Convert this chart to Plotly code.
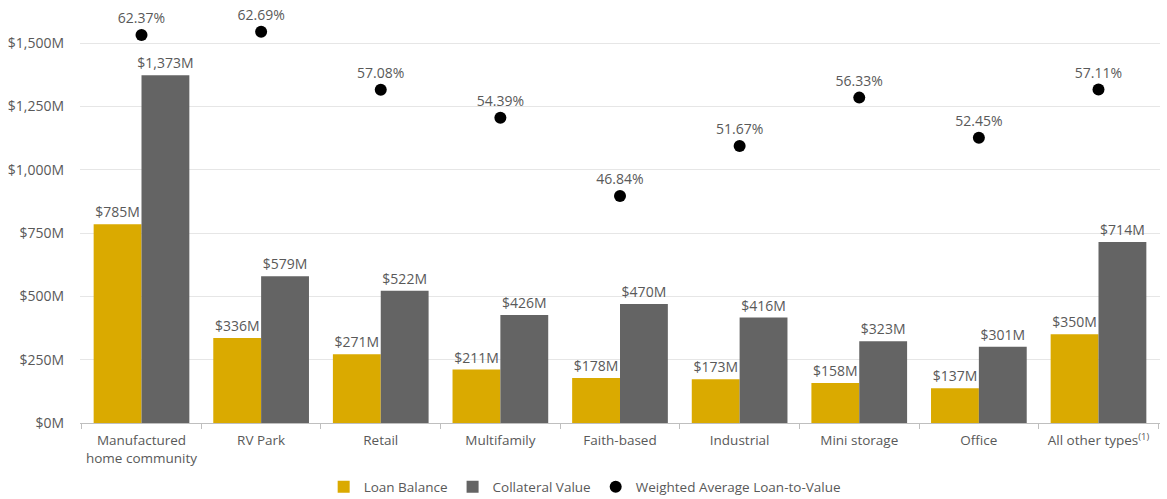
import plotly.graph_objects as go

categories = ["Manufactured<br>home community", "RV Park", "Retail", "Multifamily",
              "Faith-based", "Industrial", "Mini storage", "Office",
              "All other types<sup>(1)</sup>"]
loan_balance = [785, 336, 271, 211, 178, 173, 158, 137, 350]
collateral_value = [1373, 579, 522, 426, 470, 416, 323, 301, 714]
ltv = [62.37, 62.69, 57.08, 54.39, 46.84, 51.67, 56.33, 52.45, 57.11]
y_ticks = [0, 250, 500, 750, 1000, 1250, 1500]
y_tick_labels = ["$0M", "$250M", "$500M", "$750M", "$1,000M", "$1,250M", "$1,500M"]

FONT = "Open Sans"
TXT = "#595959"

fig = go.Figure()
fig.add_trace(go.Bar(
    x=categories, y=loan_balance, name="Loan Balance",
    marker=dict(color="#DAAA00", line=dict(width=0)),
    text=[f"${v:,}M" for v in loan_balance], textposition="outside",
    constraintext="none",
    textfont=dict(color=TXT, size=14, family=FONT), cliponaxis=False,
))
fig.add_trace(go.Bar(
    x=categories, y=collateral_value, name="Collateral Value",
    marker=dict(color="#646464", line=dict(width=0)),
    text=[f"${v:,}M" for v in collateral_value], textposition="outside",
    constraintext="none",
    textfont=dict(color=TXT, size=14, family=FONT), cliponaxis=False,
))
fig.add_trace(go.Scatter(
    x=categories, y=ltv, name="Weighted Average Loan-to-Value", yaxis="y2",
    mode="markers+text", marker=dict(color="black", size=12),
    text=[f"{v:.2f}%" for v in ltv], textposition="top center",
    textfont=dict(color=TXT, size=14, family=FONT), cliponaxis=False,
))

fig.update_layout(
    width=1167, height=499,
    margin=dict(l=80, r=7, t=10, b=76, autoexpand=False),
    paper_bgcolor="white", plot_bgcolor="white",
    font=dict(family=FONT, color=TXT, size=14),
    barmode="group", bargap=0.2, bargroupgap=0,
    xaxis=dict(showline=True, linecolor="#bfbfbf", linewidth=1, automargin=False,
               tickangle=0, ticklabelstandoff=5,
               ticks="outside", tickson="boundaries", ticklen=5, tickcolor="#bfbfbf",
               tickfont=dict(size=13.5, color=TXT)),
    yaxis=dict(range=[0, 1630.3], tickvals=y_ticks, ticktext=y_tick_labels,
               showgrid=True, gridcolor="#e6e6e6", gridwidth=1, zeroline=False,
               automargin=False,
               tickfont=dict(size=14, color=TXT), ticklabelstandoff=15),
    yaxis2=dict(overlaying="y", range=[24.95, 64.78], visible=False),
    legend=dict(orientation="h", xref="container", yref="container",
                x=0.501, xanchor="center", y=0.024, yanchor="middle",
                font=dict(size=13.5, color=TXT), itemwidth=30, traceorder="normal"),
    showlegend=True,
)

fig.write_html("out.html", config={"displayModeBar": False},
               post_script="document.body.style.margin='0px';")
